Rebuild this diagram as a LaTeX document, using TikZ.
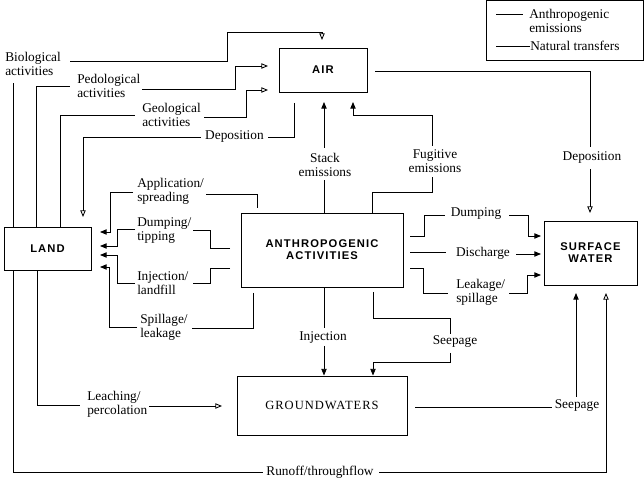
\documentclass[tikz,border=0pt]{standalone}
\usepackage{fontspec}
\setmainfont{Liberation Serif}
\newfontfamily\boxsans[LetterSpace=10]{Liberation Sans}
\newfontfamily\boxserif[LetterSpace=8]{Liberation Serif}
\usetikzlibrary{arrows.meta}
\begin{document}
\begin{tikzpicture}[x=0.75pt,y=-0.75pt,
  box/.style={draw, line width=0.7pt, inner sep=0pt, align=center},
  bsans/.style={font=\boxsans\bfseries\fontsize{8.4}{9}\selectfont},
  bserif/.style={font=\boxserif\fontsize{9.4}{10}\selectfont},
  lbl/.style={inner sep=0pt, font=\fontsize{10}{10.5}\selectfont, align=left, anchor=west},
  clbl/.style={inner sep=0pt, font=\fontsize{10}{10.5}\selectfont, align=center},
  conn/.style={line width=0.65pt},
  aarrow/.style={conn, -{Triangle[length=5pt,width=4pt]}},
  narrow/.style={conn, -{Triangle[open,length=5pt,width=4pt]}}
]
\useasboundingbox (0,0) rectangle (644,481);

% boxes
\node[box, bsans, minimum width=66pt, minimum height=33pt] (air) at (323,70) {AIR};
\node[box, bsans, minimum width=65.25pt, minimum height=32.25pt] (land) at (47.5,248.5) {LAND};
\node[box, bsans, minimum width=121.5pt, minimum height=55.5pt] (anth) at (322,250) {ANTHROPOGENIC\\ACTIVITIES};
\node[box, bsans, minimum width=69.75pt, minimum height=48pt] (sw) at (590.5,253) {SURFACE\\WATER};
\node[box, bserif, minimum width=127.5pt, minimum height=44.25pt] (gw) at (322,405.5) {GROUNDWATERS};

% legend
\node[box, line width=0.6pt, minimum width=117.75pt, minimum height=45pt] (leg) at (564.5,30.5) {};
\node[lbl] (legA) at (529,20.5) {Anthropogenic\\emissions};
\node[lbl] (legN) at (530,46) {Natural transfers};
\coordinate (la1) at (496,14);
\coordinate (ln1) at (496,46);
\draw[line width=0.45pt] (la1) -- (523,14);
\draw[conn] (ln1) -- (legN.west);

% labels
\node[lbl] (bio) at (5,64) {Biological\\activities};
\node[lbl] (ped) at (77,85.5) {Pedological\\activities};
\node[lbl] (geo) at (142,114.5) {Geological\\activities};
\node[clbl] (depl) at (234.5,137) {Deposition};
\node[clbl] (stack) at (325,165) {Stack\\emissions};
\node[clbl] (fug) at (435,161) {Fugitive\\emissions};
\node[clbl] (deps) at (592,158) {Deposition};
\node[lbl] (app) at (137,191.5) {Application/\\spreading};
\node[lbl] (dmpt) at (137,231) {Dumping/\\tipping};
\node[lbl] (injl) at (137,283) {Injection/\\landfill};
\node[lbl] (spil) at (140,327.5) {Spillage/\\leakage};
\node[clbl] (dmps) at (476,214) {Dumping};
\node[clbl] (disc) at (483,253) {Discharge};
\node[lbl] (leak) at (456,292) {Leakage/\\spillage};
\node[clbl] (inj) at (323,338) {Injection};
\node[clbl] (seep1) at (455,342) {Seepage};
\node[clbl] (seep2) at (577,406) {Seepage};
\node[lbl] (leach) at (87,404.5) {Leaching/\\percolation};
\node[clbl] (run) at (320,472) {Runoff/throughflow};

% natural transfers
\draw[conn] (13,0 |- land.north) -- (13,83);
\draw[narrow] (70,61) -- (227,61) -- (227,32) -- (322,32) -- (322,40);
\draw[conn] (36,0 |- land.north) -- (36,86) -- (70,86);
\draw[narrow] (142,89) -- (235,89) -- (235,66) -- (268,66);
\draw[conn] (60,0 |- land.north) -- (60,115) -- (135,115);
\draw[narrow] (204,117) -- (246,117) -- (246,90) -- (268,90);
\draw[conn] (294,103) -- (294,137) -- (268,137);
\draw[narrow] (201,137) -- (83,137) -- (83,217);
\draw[conn] (375,71) -- (590,71) -- (590,147);
\draw[narrow] (590,169) -- (590,213);
\draw[conn] (37,0 |- land.south) -- (37,405) -- (80,405);
\draw[narrow] (149,406) -- (222,406);
\draw[conn] (13,0 |- land.south) -- (13,472) -- (263,472);
\draw[narrow] (379,472) -- (606,472) -- (606,293);

% anthropogenic emissions
\draw[conn] (324,0 |- anth.north) -- (324,180);
\draw[aarrow] (324,148) -- (324,102);
\draw[conn] (372,0 |- anth.north) -- (372,192) -- (432,192) -- (432,177);
\draw[aarrow] (432,146) -- (432,115) -- (353,115) -- (353,102);
\draw[conn] (257,208) -- (257,194) -- (206,194);
\draw[aarrow] (133,192) -- (110,192) -- (110,232) -- (100,232);
\draw[conn] (230,248) -- (210,248) -- (210,230) -- (193,230);
\draw[aarrow] (135,229) -- (117,229) -- (117,246) -- (100,246);
\draw[conn] (230,268) -- (210,268) -- (210,283) -- (193,283);
\draw[aarrow] (135,283) -- (117,283) -- (117,255) -- (100,255);
\draw[conn] (253,293) -- (253,328) -- (192,328);
\draw[aarrow] (137,327) -- (109,327) -- (109,267) -- (100,267);
\draw[conn] (410,236) -- (424,236) -- (424,215) -- (445,215);
\draw[aarrow] (509,215) -- (528,215) -- (528,236) -- (541,236);
\draw[conn] (410,252) -- (446,252);
\draw[aarrow] (516,254) -- (541,254);
\draw[conn] (410,268) -- (423,268) -- (423,293) -- (448,293);
\draw[aarrow] (509,293) -- (527,293) -- (527,275) -- (541,275);
\draw[conn] (324,0 |- anth.south) -- (324,328);
\draw[aarrow] (324,346) -- (324,0 |- gw.north);
\draw[conn] (373,292) -- (373,318) -- (450,318) -- (450,334);
\draw[aarrow] (450,353) -- (450,362) -- (373,362) -- (373,0 |- gw.north);
\draw[conn] (415,407) -- (552,407);
\draw[aarrow] (576,397) -- (576,293);
\end{tikzpicture}
\end{document}
